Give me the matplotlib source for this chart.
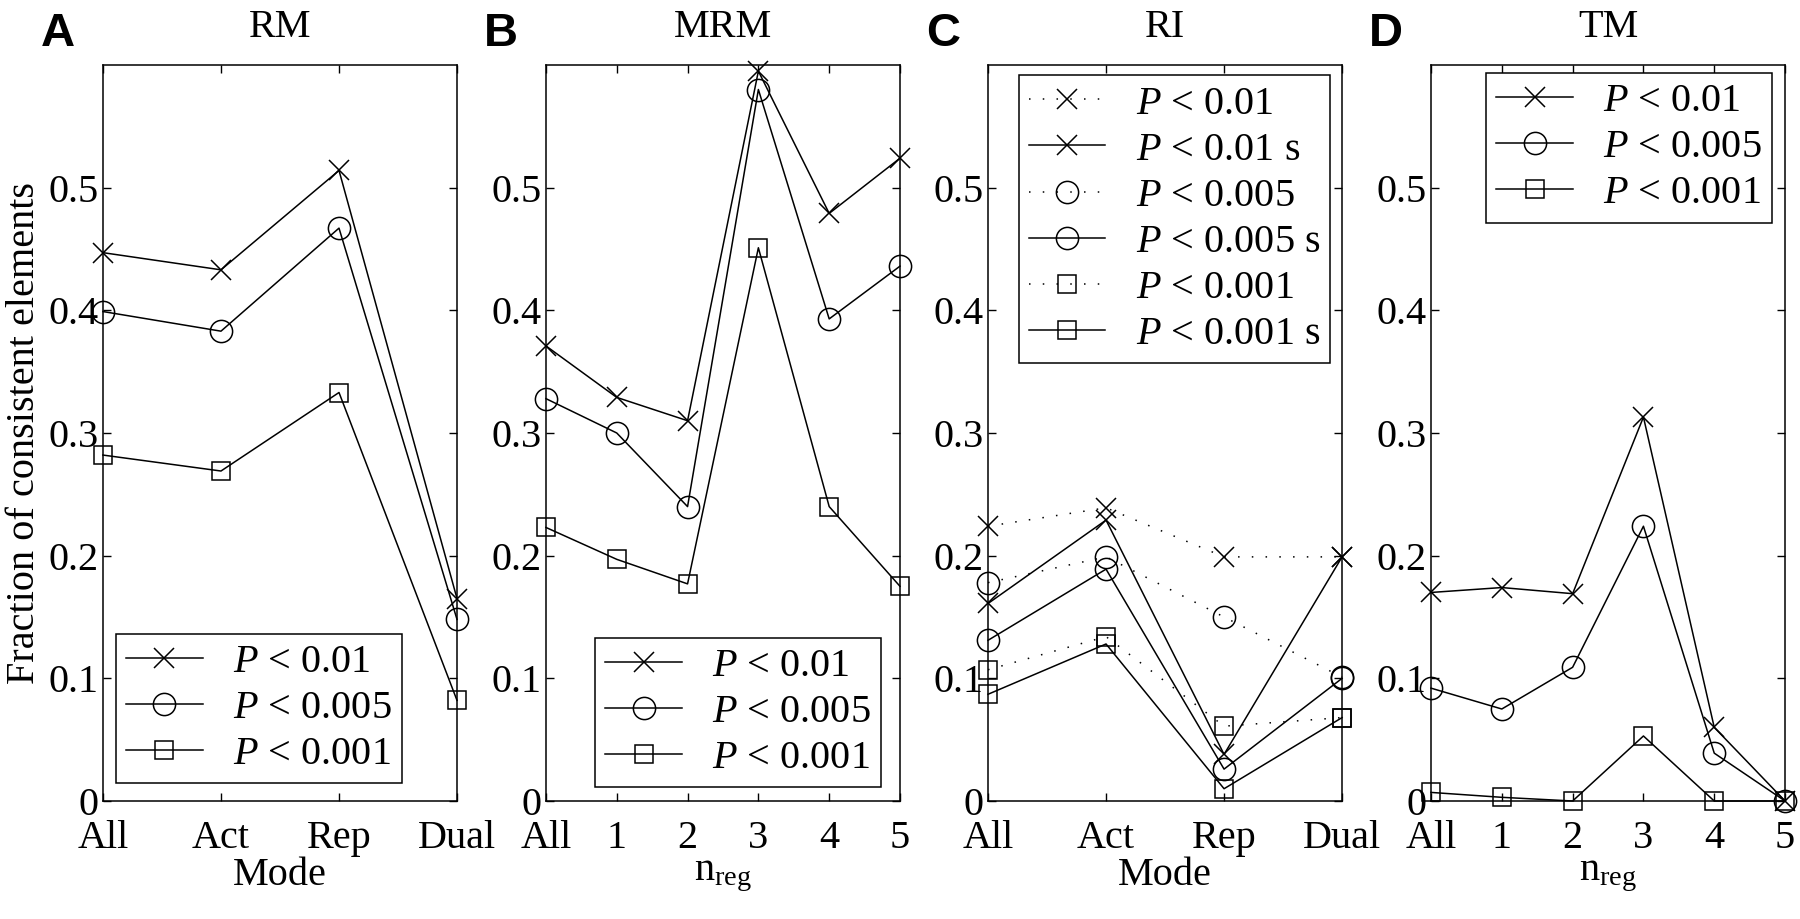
import matplotlib
matplotlib.use('Agg')
import matplotlib.pyplot as plt

# x categories
modes = ['All', 'Act', 'Rep', 'Dual']
nreg_labels = ['All', '1', '2', '3', '4', '5']

# A) RM
rm_p01 = [0.447, 0.433, 0.514, 0.165]
rm_p005 = [0.399, 0.383, 0.467, 0.148]
rm_p001 = [0.282, 0.269, 0.333, 0.082]

# B) MRM
mrm_p01 = [0.371, 0.329, 0.310, 0.595, 0.479, 0.524]
mrm_p005 = [0.328, 0.300, 0.240, 0.580, 0.393, 0.436]
mrm_p001 = [0.223, 0.197, 0.177, 0.451, 0.240, 0.175]

# C) RI (dotted = plain, solid = "s")
ri_p01 = [0.224, 0.239, 0.199, 0.199]
ri_p01_s = [0.161, 0.229, 0.038, 0.199]
ri_p005 = [0.178, 0.199, 0.150, 0.101]
ri_p005_s = [0.131, 0.189, 0.026, 0.100]
ri_p001 = [0.107, 0.134, 0.061, 0.068]
ri_p001_s = [0.087, 0.128, 0.010, 0.068]

# D) TM
tm_p01 = [0.170, 0.174, 0.169, 0.313, 0.060, 0.0]
tm_p005 = [0.092, 0.075, 0.109, 0.224, 0.039, 0.0]
tm_p001 = [0.007, 0.003, 0.0, 0.053, 0.0, 0.0]

y_ticks = [0, 0.1, 0.2, 0.3, 0.4, 0.5]
y_tick_labels = ['0', '0.1', '0.2', '0.3', '0.4', '0.5']

plt.rcParams['font.family'] = ['Liberation Serif', 'DejaVu Serif']
plt.rcParams['mathtext.fontset'] = 'custom'
plt.rcParams['mathtext.rm'] = 'Liberation Serif'
plt.rcParams['mathtext.it'] = 'Liberation Serif:italic'

TICK_FS = 29
LEG_FS = 29
MS = {'x': 14, 'o': 16, 's': 13}
DOTTED = (0, (1, 8))


def lab(p, s=''):
    return r'$P$ < ' + p + s


def draw_panel(ax, xlabels, series, title, xlabel):
    x = list(range(len(xlabels)))
    for vals, marker, ls, label in series:
        ax.plot(x, vals, color='black', lw=1.1, ls=ls, marker=marker,
                ms=MS[marker], mfc='none', mec='black', mew=1.1,
                clip_on=False, label=label)
    ax.set_xlim(0, len(xlabels) - 1)
    ax.set_ylim(0, 0.6)
    ax.set_xticks(x)
    ax.set_xticklabels(xlabels)
    ax.set_yticks(y_ticks)
    ax.set_yticklabels(y_tick_labels)
    ax.tick_params(direction='in', top=True, right=True, length=6, width=1,
                   labelsize=TICK_FS)
    ax.tick_params(axis='x', pad=14)
    ax.tick_params(axis='y', pad=3)
    for sp in ax.spines.values():
        sp.set_linewidth(1.1)
    ax.set_title(title, fontsize=29, pad=20)
    ax.set_xlabel(xlabel, fontsize=TICK_FS, labelpad=0)


def add_legend(ax, loc, anchor):
    leg = ax.legend(loc=loc, bbox_to_anchor=anchor, fontsize=LEG_FS,
                    handlelength=1.9, handletextpad=0.75, borderpad=0.25,
                    labelspacing=0.22, borderaxespad=0, fancybox=False,
                    framealpha=1, edgecolor='black')
    leg.get_frame().set_linewidth(1.1)


fig = plt.figure(figsize=(18, 9.19), dpi=100)

bottom = 0.1284
height = 0.8009
width = 0.1967
lefts = [0.0572, 0.3033, 0.5489, 0.795]
axA, axB, axC, axD = [fig.add_axes([l, bottom, width, height]) for l in lefts]

draw_panel(axA, modes, [
    (rm_p01, 'x', '-', lab('0.01')),
    (rm_p005, 'o', '-', lab('0.005')),
    (rm_p001, 's', '-', lab('0.001')),
], 'RM', 'Mode')
add_legend(axA, 'lower left', (0.037, 0.024))
axA.set_ylabel('Fraction of consistent elements', fontsize=29, labelpad=4)

draw_panel(axB, nreg_labels, [
    (mrm_p01, 'x', '-', lab('0.01')),
    (mrm_p005, 'o', '-', lab('0.005')),
    (mrm_p001, 's', '-', lab('0.001')),
], 'MRM', r'n$_{\mathrm{reg}}$')
add_legend(axB, 'lower right', (0.946, 0.019))

draw_panel(axC, modes, [
    (ri_p01, 'x', DOTTED, lab('0.01')),
    (ri_p01_s, 'x', '-', lab('0.01', ' s')),
    (ri_p005, 'o', DOTTED, lab('0.005')),
    (ri_p005_s, 'o', '-', lab('0.005', ' s')),
    (ri_p001, 's', DOTTED, lab('0.001')),
    (ri_p001_s, 's', '-', lab('0.001', ' s')),
], 'RI', 'Mode')
add_legend(axC, 'upper right', (0.966, 0.986))

draw_panel(axD, nreg_labels, [
    (tm_p01, 'x', '-', lab('0.01')),
    (tm_p005, 'o', '-', lab('0.005')),
    (tm_p001, 's', '-', lab('0.001')),
], 'TM', r'n$_{\mathrm{reg}}$')
add_legend(axD, 'upper right', (0.963, 0.989))

# panel letters
for ax, letter in zip([axA, axB, axC, axD], 'ABCD'):
    l = ax.get_position().x0
    fig.text(l - 62 / 1800, 0.95, letter, fontsize=34, fontweight='bold',
             family='Liberation Sans', va='baseline', ha='left')

fig.savefig('out.png', dpi=100)
